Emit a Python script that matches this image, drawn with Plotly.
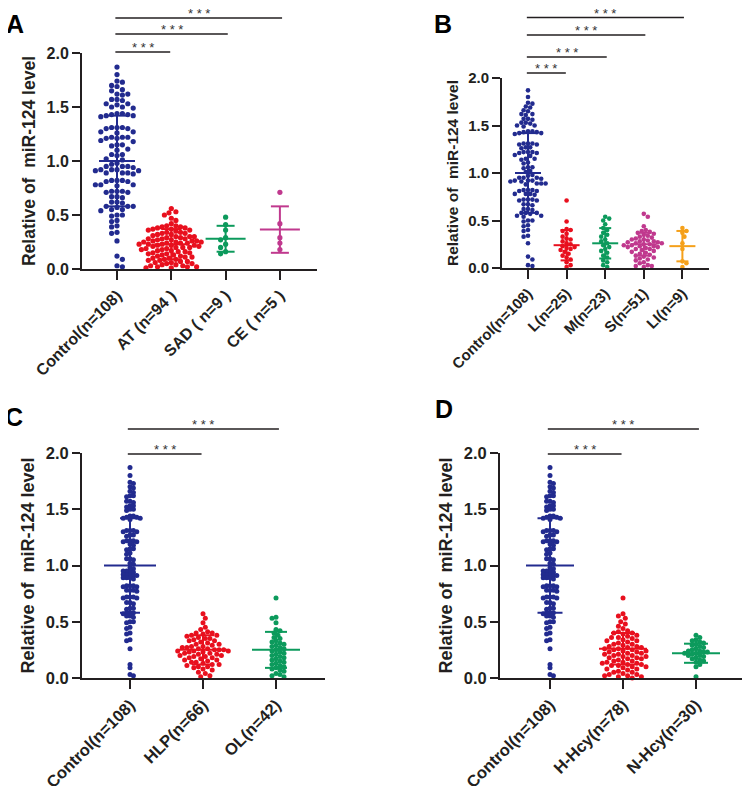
import numpy as np
import plotly.graph_objects as go

# ---- values (relative miR-124 level) ----
control_vals = [1.87, 1.80, 1.74, 1.73, 1.70, 1.69, 1.66, 1.65, 1.62, 1.62, 1.61,
                1.57, 1.57, 1.56, 1.53, 1.53, 1.52, 1.50, 1.50, 1.49, 1.44, 1.44,
                1.43, 1.43, 1.42, 1.42, 1.41, 1.31, 1.31, 1.30, 1.30, 1.31, 1.27,
                1.27, 1.26, 1.22, 1.22, 1.21, 1.22, 1.21, 1.19, 1.18, 1.15, 1.15,
                1.14, 1.11, 1.10, 1.06, 1.06, 1.05, 1.02, 1.01, 0.98, 0.97, 0.95,
                0.95, 0.94, 0.95, 0.92, 0.92, 0.91, 0.92, 0.91, 0.89, 0.89, 0.88,
                0.89, 0.82, 0.82, 0.81, 0.82, 0.81, 0.78, 0.78, 0.77, 0.78, 0.72,
                0.72, 0.71, 0.72, 0.71, 0.67, 0.67, 0.66, 0.62, 0.62, 0.61, 0.58,
                0.58, 0.57, 0.58, 0.55, 0.55, 0.54, 0.50, 0.50, 0.49, 0.45, 0.44,
                0.40, 0.39, 0.34, 0.33, 0.26, 0.12, 0.09, 0.03, 0.02]
at_vals = [0.56, 0.53, 0.52, 0.50, 0.47, 0.45, 0.42, 0.40, 0.40, 0.39,
           0.39, 0.38, 0.38, 0.37, 0.37, 0.36, 0.36, 0.35, 0.34, 0.34,
           0.33, 0.33, 0.32, 0.32, 0.31, 0.30, 0.30, 0.30, 0.29, 0.29,
           0.28, 0.28, 0.28, 0.27, 0.27, 0.26, 0.26, 0.26, 0.25, 0.25,
           0.25, 0.24, 0.24, 0.24, 0.23, 0.23, 0.23, 0.22, 0.22, 0.22,
           0.21, 0.21, 0.20, 0.20, 0.20, 0.19, 0.19, 0.18, 0.18, 0.17,
           0.17, 0.16, 0.16, 0.15, 0.15, 0.14, 0.14, 0.13, 0.13, 0.12,
           0.12, 0.11, 0.11, 0.10, 0.10, 0.09, 0.09, 0.08, 0.08, 0.07,
           0.07, 0.06, 0.06, 0.05, 0.05, 0.04, 0.04, 0.03, 0.03, 0.02,
           0.02, 0.02, 0.01, 0.01]
sad_vals = [0.48, 0.41, 0.36, 0.29, 0.27, 0.23, 0.20, 0.16, 0.14]
ce_vals = [0.71, 0.42, 0.29, 0.24, 0.18]

l_vals = [0.71, 0.49, 0.41, 0.40, 0.39, 0.36, 0.33, 0.31, 0.30, 0.28, 0.26, 0.25,
          0.23, 0.22, 0.21, 0.20, 0.19, 0.17, 0.15, 0.13, 0.11, 0.09, 0.06, 0.03, 0.01]
m_vals = [0.54, 0.52, 0.50, 0.46, 0.42, 0.40, 0.37, 0.35, 0.33, 0.30, 0.28, 0.26,
          0.24, 0.22, 0.20, 0.18, 0.16, 0.13, 0.11, 0.08, 0.06, 0.03, 0.01]
s_vals = [0.57, 0.54, 0.44, 0.40, 0.39, 0.38, 0.37, 0.36, 0.35, 0.34,
          0.33, 0.32, 0.31, 0.30, 0.30, 0.29, 0.28, 0.28, 0.27, 0.27,
          0.26, 0.26, 0.25, 0.25, 0.24, 0.24, 0.23, 0.23, 0.22, 0.22,
          0.21, 0.20, 0.20, 0.19, 0.18, 0.17, 0.16, 0.15, 0.14, 0.13,
          0.12, 0.11, 0.10, 0.09, 0.08, 0.06, 0.05, 0.03, 0.02, 0.02, 0.01]
li_vals = [0.42, 0.39, 0.37, 0.33, 0.26, 0.20, 0.07, 0.05, 0.01]

hlp_vals = [0.57, 0.53, 0.49, 0.45, 0.43, 0.41, 0.40, 0.40, 0.39, 0.38,
            0.38, 0.37, 0.36, 0.35, 0.35, 0.34, 0.33, 0.33, 0.32, 0.31,
            0.30, 0.30, 0.29, 0.28, 0.28, 0.27, 0.27, 0.26, 0.26, 0.25,
            0.25, 0.25, 0.24, 0.24, 0.24, 0.23, 0.23, 0.22, 0.22, 0.21,
            0.21, 0.20, 0.20, 0.19, 0.19, 0.18, 0.18, 0.17, 0.16, 0.16,
            0.15, 0.14, 0.14, 0.13, 0.12, 0.12, 0.11, 0.10, 0.10, 0.09,
            0.08, 0.07, 0.05, 0.04, 0.02, 0.01]
ol_vals = [0.71, 0.54, 0.53, 0.49, 0.43, 0.42, 0.40, 0.38, 0.36, 0.35,
           0.33, 0.32, 0.31, 0.30, 0.29, 0.28, 0.27, 0.26, 0.25, 0.24,
           0.23, 0.22, 0.21, 0.20, 0.19, 0.18, 0.17, 0.16, 0.15, 0.14,
           0.13, 0.12, 0.11, 0.10, 0.09, 0.08, 0.07, 0.06, 0.04, 0.03, 0.02, 0.01]

hhcy_vals = [0.71, 0.57, 0.55, 0.53, 0.50, 0.48, 0.46, 0.44, 0.42, 0.41,
             0.40, 0.40, 0.39, 0.38, 0.37, 0.36, 0.36, 0.35, 0.34, 0.33,
             0.33, 0.32, 0.31, 0.30, 0.30, 0.29, 0.28, 0.28, 0.27, 0.27,
             0.26, 0.26, 0.25, 0.25, 0.24, 0.24, 0.23, 0.23, 0.22, 0.22,
             0.21, 0.21, 0.20, 0.20, 0.19, 0.19, 0.18, 0.18, 0.17, 0.17,
             0.16, 0.15, 0.15, 0.14, 0.14, 0.13, 0.13, 0.12, 0.12, 0.11,
             0.11, 0.10, 0.10, 0.09, 0.08, 0.08, 0.07, 0.06, 0.05, 0.05,
             0.04, 0.03, 0.03, 0.02, 0.02, 0.01, 0.01, 0.00]
nhcy_vals = [0.38, 0.36, 0.34, 0.33, 0.32, 0.31, 0.30, 0.29, 0.28, 0.27,
             0.26, 0.25, 0.24, 0.24, 0.23, 0.23, 0.22, 0.22, 0.21, 0.20,
             0.20, 0.19, 0.18, 0.17, 0.16, 0.15, 0.14, 0.12, 0.10, 0.01]

labels_a = ["Control(n=108)", "AT (n=94 )", "SAD ( n=9 )", "CE ( n=5 )"]
labels_b = ["Control(n=108)", "L(n=25)", "M(n=23)", "S(n=51)", "LI(n=9)"]
labels_c = ["Control(n=108)", "HLP(n=66)", "OL(n=42)"]
labels_d = ["Control(n=108)", "H-Hcy(n=78)", "N-Hcy(n=30)"]

# mean and SD bars as drawn
means_a = [1.00, 0.23, 0.28, 0.365]
sds_a = [0.42, 0.14, 0.12, 0.215]
means_b = [1.00, 0.24, 0.26, 0.25, 0.23]
sds_b = [0.42, 0.16, 0.16, 0.12, 0.16]
means_c = [1.00, 0.25, 0.25]
sds_c = [0.42, 0.13, 0.16]
means_d = [1.00, 0.26, 0.22]
sds_d = [0.42, 0.14, 0.085]

# pairwise comparisons (all *** )
comps_a = [(0, 1), (0, 2), (0, 3)]
comps_b = [(0, 1), (0, 2), (0, 3), (0, 4)]
comps_c = [(0, 1), (0, 2)]
comps_d = [(0, 1), (0, 2)]

NAVY = "#222b8f"
RED = "#e8101e"
GREEN = "#0c9a5c"
MAGENTA = "#c0398e"
ORANGE = "#f5a01a"
AXC = "#231f20"
FONT = "Arial, 'Liberation Sans', sans-serif"

# page body has an 8px margin, so the figure is drawn that much smaller
OFF = 8
W, H = 750 - OFF, 786 - OFF


def px_x(px):
    return (px - OFF) / W


def px_y(py):
    return 1 - (py - OFF) / H


def swarm(vals, ppu, sep):
    """beeswarm x offsets in pixels"""
    vals = np.asarray(vals, float)
    order = np.argsort(-vals, kind="stable")
    ys = vals * ppu
    xs = np.zeros(len(vals))
    done = []
    for n, i in enumerate(order):
        sign = 1 if n % 2 else -1
        cands = [0.0]
        for k in range(1, 80):
            cands += [sign * k * sep * 0.5, -sign * k * sep * 0.5]
        for c in cands:
            ok = True
            for j in done:
                if (xs[j] - c) ** 2 + (ys[j] - ys[i]) ** 2 < (sep * 0.98) ** 2:
                    ok = False
                    break
            if ok:
                xs[i] = c
                break
        done.append(i)
    return xs


panels = [
    dict(groups=[control_vals, at_vals, sad_vals, ce_vals], labels=labels_a,
         means=means_a, sds=sds_a, comps=comps_a,
         colors=[NAVY, RED, GREEN, MAGENTA],
         left=82, right=317, y0=269, y2=53, cat0=117, step=54.3,
         sep=[5.4, 4.6, 5.0, 5.0], msize=5.2, fs=16, tfs=17.5,
         mean_hw=[18, 17, 20, 20], cap_hw=[12, 10, 9, 9],
         sig_y=[52, 34, 18], letter="A", lx=4, ly=8),
    dict(groups=[control_vals, l_vals, m_vals, s_vals, li_vals], labels=labels_b,
         means=means_b, sds=sds_b, comps=comps_b,
         colors=[NAVY, RED, GREEN, MAGENTA, ORANGE],
         left=502, right=709, y0=268, y2=78, cat0=528, step=38.6,
         sep=[4.4, 4.0, 4.0, 4.0, 4.0], msize=4.6, fs=15, tfs=15.5,
         mean_hw=[13, 13, 13, 13, 13], cap_hw=[8, 6, 6, 6, 6],
         sig_y=[73, 57, 35, 17.5], letter="B", lx=432, ly=8),
    dict(groups=[control_vals, hlp_vals, ol_vals], labels=labels_c,
         means=means_c, sds=sds_c, comps=comps_c,
         colors=[NAVY, RED, GREEN],
         left=82, right=325, y0=678, y2=453, cat0=130, step=73,
         sep=[3.4, 4.6, 4.0], msize=5.0, fs=16.5, tfs=18,
         mean_hw=[26, 24, 24], cap_hw=[10, 11, 11],
         sig_y=[454, 429], letter="C", lx=3, ly=401),
    dict(groups=[control_vals, hhcy_vals, nhcy_vals], labels=labels_d,
         means=means_d, sds=sds_d, comps=comps_d,
         colors=[NAVY, RED, GREEN],
         left=500, right=746, y0=678, y2=453, cat0=550, step=73,
         sep=[3.4, 4.6, 3.8], msize=5.0, fs=16.5, tfs=18,
         mean_hw=[24, 24, 24], cap_hw=[12.5, 12, 12],
         sig_y=[454, 429], letter="D", lx=433, ly=393),
]

fig = go.Figure()
shapes = []
annotations = []
layout_axes = {}

for p_i, p in enumerate(panels):
    k = "" if p_i == 0 else str(p_i + 1)
    xa, ya = "x" + k, "y" + k
    ppu = (p["y0"] - p["y2"]) / 2.0
    xr = [(p["left"] - p["cat0"]) / p["step"], (p["right"] - p["cat0"]) / p["step"]]

    for g_i, vals in enumerate(p["groups"]):
        offs = swarm(vals, ppu, p["sep"][g_i]) / p["step"]
        fig.add_trace(go.Scatter(
            x=g_i + offs, y=vals, mode="markers", xaxis=xa, yaxis=ya,
            marker=dict(size=p["msize"], color=p["colors"][g_i], line=dict(width=0)),
            cliponaxis=False, hoverinfo="y", showlegend=False))

    # mean +/- SD
    for g_i, (m, s) in enumerate(zip(p["means"], p["sds"])):
        mh = p["mean_hw"][g_i] / p["step"]
        ch = p["cap_hw"][g_i] / p["step"]
        lx = [g_i - mh, g_i + mh, None, g_i - ch, g_i + ch, None,
              g_i - ch, g_i + ch, None, g_i, g_i]
        ly = [m, m, None, m + s, m + s, None, m - s, m - s, None, m - s, m + s]
        fig.add_trace(go.Scatter(
            x=lx, y=ly, mode="lines", xaxis=xa, yaxis=ya,
            line=dict(color=p["colors"][g_i], width=2),
            hoverinfo="skip", showlegend=False))

    # significance lines
    for (a, b), sy in zip(p["comps"], p["sig_y"]):
        x0 = a - 0.03
        x1 = b + 0.04 if b > 1 else b - 0.02
        shapes.append(dict(type="line", xref=xa, yref="paper", x0=x0, x1=x1,
                           y0=px_y(sy), y1=px_y(sy),
                           line=dict(color=AXC, width=1.6)))
        annotations.append(dict(xref=xa, yref="paper", x=(x0 + x1) / 2,
                                y=px_y(sy - 4.5), text="* * *", showarrow=False,
                                xanchor="center", yanchor="middle",
                                font=dict(family=FONT, size=13, color="#333333")))

    annotations.append(dict(xref="paper", yref="paper", x=px_x(p["lx"]), y=px_y(p["ly"]),
                            text="<b>" + p["letter"] + "</b>", showarrow=False,
                            xanchor="left", yanchor="top",
                            font=dict(family=FONT, size=25, color="black")))

    layout_axes["xaxis" + k] = dict(
        domain=[px_x(p["left"]), px_x(p["right"])], anchor=ya, range=xr,
        automargin=False,
        tickmode="array", tickvals=list(range(len(p["labels"]))), ticktext=p["labels"],
        tickangle=-45, showline=True, linecolor=AXC, linewidth=2,
        ticks="outside", ticklen=9, tickwidth=2, tickcolor=AXC,
        showgrid=False, zeroline=False,
        tickfont=dict(family=FONT, size=p["fs"], color=AXC, weight="bold"))
    layout_axes["yaxis" + k] = dict(
        domain=[px_y(p["y0"]), px_y(p["y2"])], anchor=xa, range=[0, 2.0],
        automargin=False,
        tickmode="array", tickvals=[0, 0.5, 1.0, 1.5, 2.0],
        ticktext=["0.0", "0.5", "1.0", "1.5", "2.0"],
        showline=True, linecolor=AXC, linewidth=2,
        ticks="outside", ticklen=8, tickwidth=2, tickcolor=AXC,
        showgrid=False, zeroline=False,
        tickfont=dict(family=FONT, size=p["fs"], color=AXC, weight="bold"),
        title=dict(text="Relative of  miR-124 level", standoff=6,
                   font=dict(family=FONT, size=p["tfs"], color=AXC, weight="bold")))

fig.update_layout(
    width=W, height=H, margin=dict(l=0, r=0, t=0, b=0),
    paper_bgcolor="white", plot_bgcolor="white", showlegend=False,
    shapes=shapes, annotations=annotations, **layout_axes)

fig.write_html("out.html")
